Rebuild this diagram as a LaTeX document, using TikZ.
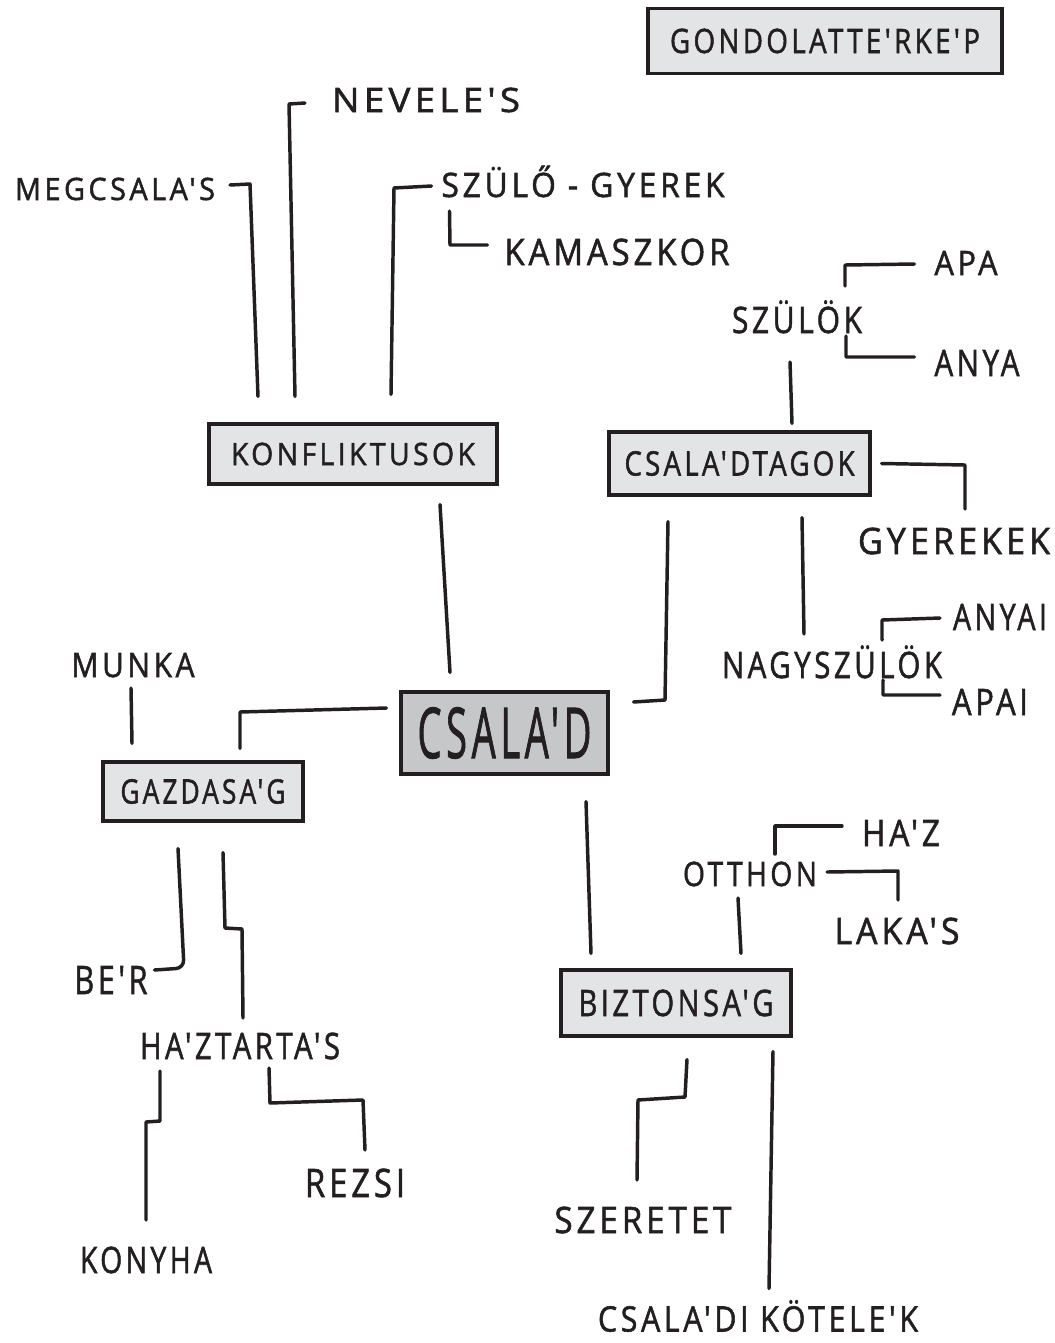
\documentclass[tikz,border=0pt]{standalone}
\usepackage{fontspec}
\usepackage{graphicx}
\newfontfamily\handfont{Open Sans}[LetterSpace=12,FakeBold=1.6]
% one unit of the drawing grid
\newdimen\pxu \pxu=0.75pt
% set a label to a given width and cap height (in grid units)
\newcommand\fitlabel[3]{\resizebox{#1\pxu}{#2\pxu}{\raisebox{0pt}[\fontcharht\font`H][0pt]{#3}}}
\definecolor{ink}{HTML}{231F20}
\definecolor{boxgray}{HTML}{E3E4E6}
\definecolor{coregray}{HTML}{C6C7C9}
\tikzset{
  lbl/.style={inner sep=0pt, outer sep=0pt, text=ink, font=\handfont},
  topic/.style={draw=ink, line width=2.3pt, fill=boxgray, inner sep=0pt, text=ink, font=\handfont},
  core/.style={topic, fill=coregray},
  link/.style={draw=ink, line width=2.6pt, line cap=round, line join=round},
}
\begin{document}
\begin{tikzpicture}[x=0.75pt,y=-0.75pt]
\useasboundingbox[fill=white] (0,0) rectangle (1055,1343);

% title
\node[topic, minimum width=354\pxu, minimum height=65\pxu] (title) at (825,41) {\fitlabel{310}{24}{GONDOLATTE'RKE'P}};

% main topics
\node[core, minimum width=207\pxu, minimum height=82\pxu] (csalad) at (504.5,733) {\fitlabel{174}{50}{CSALA'D}};
\node[topic, minimum width=288\pxu, minimum height=60\pxu] (konf) at (353,454) {\fitlabel{244}{22}{KONFLIKTUSOK}};
\node[topic, minimum width=261\pxu, minimum height=63\pxu] (tagok) at (739.5,463.5) {\fitlabel{230}{24}{CSALA'DTAGOK}};
\node[topic, minimum width=200\pxu, minimum height=59\pxu] (gazd) at (203,791.5) {\fitlabel{165}{24}{GAZDASA'G}};
\node[topic, minimum width=230\pxu, minimum height=66\pxu] (bizt) at (676,1003) {\fitlabel{195}{26}{BIZTONSA'G}};

% conflicts branch
\node[lbl] (neveles) at (426,100) {\fitlabel{188}{24}{NEVELE'S}};
\node[lbl] (megcs) at (115,189) {\fitlabel{200}{22}{MEGCSALA'S}};
\node[lbl] (szgy) at (583,185) {\fitlabel{283}{24}{SZÜLŐ - GYEREK}};
\node[lbl] (kamasz) at (617,252) {\fitlabel{225}{26}{KAMASZKOR}};

% family members branch
\node[lbl] (szulok) at (797,320) {\fitlabel{130}{26}{SZÜLÖK}};
\node[lbl] (apa) at (966,263) {\fitlabel{63}{24}{APA}};
\node[lbl] (anya) at (977,363) {\fitlabel{85}{26}{ANYA}};
\node[lbl] (gyerekek) at (954,541) {\fitlabel{192}{26}{GYEREKEK}};
\node[lbl] (nagysz) at (832,665) {\fitlabel{220}{26}{NAGYSZÜLÖK}};
\node[lbl] (anyai) at (1000,617) {\fitlabel{94}{26}{ANYAI}};
\node[lbl] (apai) at (990,702) {\fitlabel{76}{26}{APAI}};

% economy branch
\node[lbl] (munka) at (133,665) {\fitlabel{123}{24}{MUNKA}};
\node[lbl] (ber) at (111,980) {\fitlabel{73}{28}{BE'R}};
\node[lbl] (haztart) at (240,1046) {\fitlabel{200}{26}{HA'ZTARTA'S}};
\node[lbl] (konyha) at (146,1260) {\fitlabel{132}{26}{KONYHA}};
\node[lbl] (rezsi) at (355,1183) {\fitlabel{100}{28}{REZSI}};

% security branch
\node[lbl] (otthon) at (750,874) {\fitlabel{134}{24}{OTTHON}};
\node[lbl] (haz) at (901,833) {\fitlabel{78}{26}{HA'Z}};
\node[lbl] (lakas) at (897,931) {\fitlabel{125}{26}{LAKA'S}};
\node[lbl] (szeretet) at (643,1220) {\fitlabel{177}{26}{SZERETET}};
\node[lbl] (kotelek) at (758,1319) {\fitlabel{320}{25}{CSALA'DI KÖTELE'K}};

% connectors: conflicts
\draw[link] ([shift={(15,-4)}]megcs.east) -- (250,184) -- ([shift={(-95,-26)}]konf.north);
\draw[link] ([shift={(-27,3)}]neveles.west) -- (289,104) -- ([shift={(-58,-26)}]konf.north);
\draw[link] ([shift={(-10,1)}]szgy.west) -- (394,188) -- ([shift={(38,-28)}]konf.north);
\draw[link] ([shift={(8,14)}]szgy.south west) -- (450,245) -- ([shift={(-17,-7)}]kamasz.west);
\draw[link] ([shift={(87,19)}]konf.south) -- ([shift={(-54.5,-18)}]csalad.north);

% connectors: family members
\draw[link] ([shift={(-7,29)}]szulok.south) -- ([shift={(52.5,-7)}]tagok.north);
\draw[link] ([shift={(-17,-21)}]szulok.north east) -- (845,265) -- ([shift={(-20,1)}]apa.west);
\draw[link] ([shift={(-16,3)}]szulok.south east) -- (846,357) -- ([shift={(-20,-6)}]anya.west);
\draw[link] ([shift={(10,0)}]tagok.east) -- (965,465) -- ([shift={(11,-19)}]gyerekek.north);
\draw[link] ([shift={(62.5,21)}]tagok.south) -- ([shift={(-28,-18)}]nagysz.north);
\draw[link] ([shift={(-60,-12)}]nagysz.north east) -- (882,620) -- ([shift={(-13,1)}]anyai.west);
\draw[link] ([shift={(-59,2)}]nagysz.south east) -- (883,695) -- ([shift={(-12,-7)}]apai.west);
\draw[link] ([shift={(-71.5,25)}]tagok.south) -- (665,700) -- ([shift={(24,-31)}]csalad.east);

% connectors: economy
\draw[link] ([shift={(-13,-25)}]csalad.west) -- (240,712) -- ([shift={(37,-12)}]gazd.north);
\draw[link] ([shift={(-2,11)}]munka.south) -- ([shift={(-71,-17)}]gazd.north);
\draw[link, rounded corners=6pt] ([shift={(-25,26)}]gazd.south) -- (184,968) -- ([shift={(7,-10)}]ber.east);
\draw[link] ([shift={(20,30)}]gazd.south) -- (225,928) -- (242,929) -- ([shift={(3,-15)}]haztart.north);
\draw[link] ([shift={(-80,12)}]haztart.south) -- (160,1121) -- (146,1122) -- ([shift={(0,-27)}]konyha.north);
\draw[link] ([shift={(29,9)}]haztart.south) -- (270,1103) -- (363,1100) -- ([shift={(10,-19)}]rezsi.north);

% connectors: security
\draw[link] ([shift={(81.5,26)}]csalad.south) -- ([shift={(-85,-15)}]bizt.north);
\draw[link] ([shift={(-12,12)}]otthon.south) -- ([shift={(65,-15)}]bizt.north);
\draw[link] ([shift={(25,-8)}]otthon.north) -- (775,826) -- ([shift={(-20,-7)}]haz.west);
\draw[link] ([shift={(10,-2)}]otthon.east) -- (898,871) -- ([shift={(1,-18)}]lakas.north);
\draw[link] ([shift={(11,22)}]bizt.south) -- (685,1097) -- (638,1100) -- ([shift={(-6,-27)}]szeretet.north);
\draw[link] ([shift={(97,14)}]bizt.south) -- ([shift={(11,-18)}]kotelek.north);
\end{tikzpicture}
\end{document}
